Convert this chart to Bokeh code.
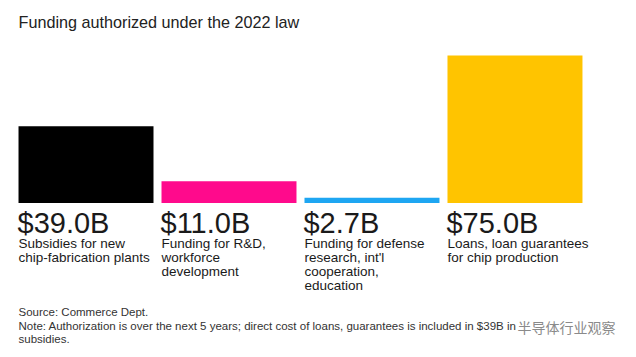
from bokeh.plotting import figure
from bokeh.models import Range1d, Label
from bokeh.core.properties import value
from bokeh.embed import file_html
from bokeh.resources import INLINE

# ---- data ----
categories = ["Subsidies", "R&D", "Defense", "Loans"]
values = [39.0, 11.0, 2.7, 75.0]
value_labels = ["$39.0B", "$11.0B", "$2.7B", "$75.0B"]
descriptions = [
    "Subsidies for new\nchip-fabrication plants",
    "Funding for R&D,\nworkforce\ndevelopment",
    "Funding for defense\nresearch, int'l\ncooperation,\neducation",
    "Loans, loan guarantees\nfor chip production",
]
title_text = "Funding authorized under the 2022 law"
source_text = "Source: Commerce Dept."
note_lines = [
    "Note: Authorization is over the next 5 years; direct cost of loans, guarantees is included in $39B in",
    "subsidies.",
]
watermark_text = "半导体行业观察"

# ---- styles ----
colors = ["#000000", "#ff0a8c", "#1ea6f2", "#ffc400"]
FONT = "Liberation Sans"
TXT = "#1a1a1a"

W, H = 620, 350
BAR_W = 0.944
PX_PER_UNIT = 1.967
BASE_PX = 202.5

p = figure(width=W, height=H, output_backend="svg", toolbar_location=None,
           x_range=Range1d(-0.598, 3.738),
           y_range=Range1d((BASE_PX - H) / PX_PER_UNIT, BASE_PX / PX_PER_UNIT),
           min_border=0, outline_line_color=None)
p.axis.visible = False
p.grid.visible = False
p.background_fill_color = "white"
p.border_fill_color = "white"

# pixel-space helper ranges for free text
p.extra_x_ranges = {"px": Range1d(0, W)}
p.extra_y_ranges = {"px": Range1d(H, 0)}

xs = list(range(len(categories)))
p.vbar(x=xs, top=values, bottom=0, width=BAR_W, fill_color=colors, line_color=None)

lefts = [x - BAR_W / 2 for x in xs]
p.text(x=lefts, y=[0] * len(xs), text=value_labels, y_offset=19.5, x_offset=-1,
       text_font=value(FONT), text_font_size="29px", text_color=TXT,
       text_baseline="alphabetic", text_align="left")
p.text(x=lefts, y=[0] * len(xs), text=descriptions, y_offset=32.5,
       text_font=value(FONT), text_font_size="13.5px", text_color=TXT,
       text_baseline="top", text_align="left", text_line_height=0.94)

p.add_layout(Label(x=18, y=21.5, x_range_name="px", y_range_name="px", text=title_text,
                   text_font=FONT, text_font_size="16.2px", text_color="#222222",
                   text_baseline="alphabetic"))
p.add_layout(Label(x=18, y=311, x_range_name="px", y_range_name="px", text=source_text,
                   text_font=FONT, text_font_size="11.5px", text_color="#333333",
                   text_baseline="alphabetic"))
for i, ln in enumerate(note_lines):
    p.add_layout(Label(x=18, y=325 + 13 * i, x_range_name="px", y_range_name="px", text=ln,
                       text_font=FONT, text_font_size="11.5px", text_color="#333333",
                       text_baseline="alphabetic"))
p.add_layout(Label(x=517, y=326, x_range_name="px", y_range_name="px", text=watermark_text,
                   text_font="Noto Sans CJK SC", text_font_size="14px", text_color="#8a8a8a",
                   text_baseline="alphabetic"))

open("out.html", "w").write(file_html(p, INLINE))
